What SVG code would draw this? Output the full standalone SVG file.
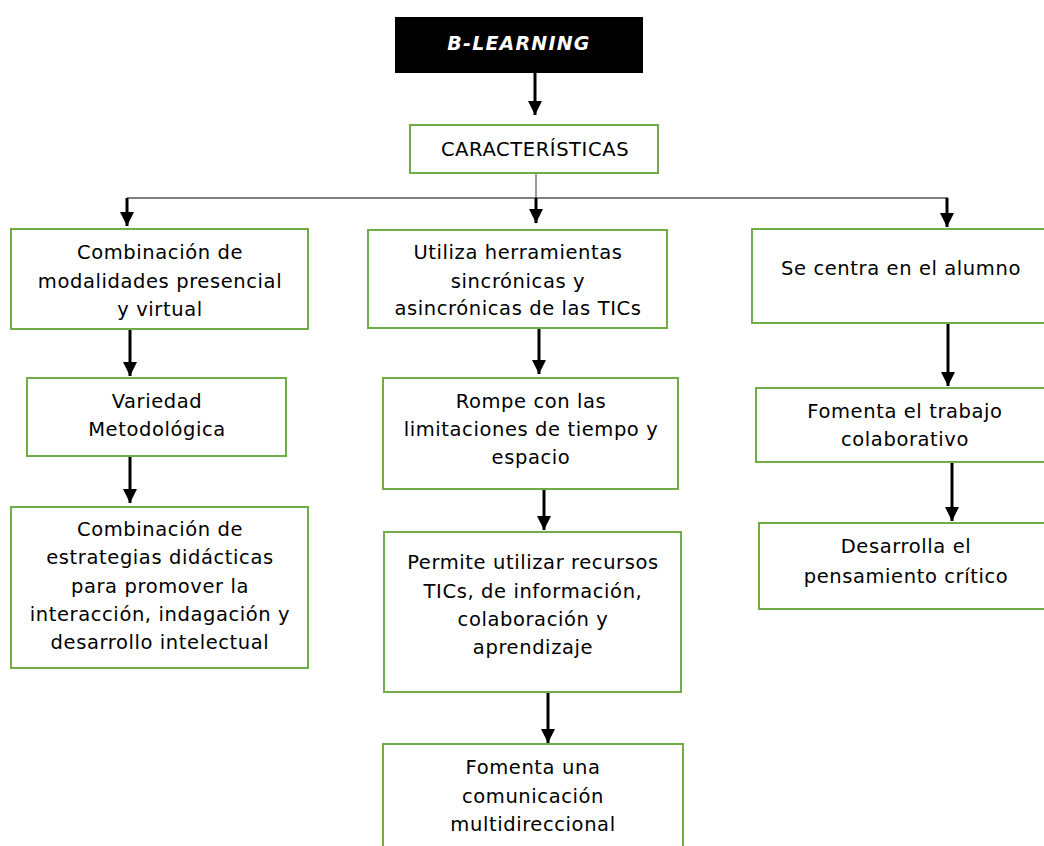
<svg xmlns="http://www.w3.org/2000/svg" width="1044" height="846" viewBox="0 0 1044 846">
<style>
.box{fill:#fff;stroke:#70ad47;stroke-width:2}
.t{font-family:"DejaVu Sans",Verdana,sans-serif;font-size:19.5px;letter-spacing:0.6px;fill:#000;text-anchor:middle}
.ar{stroke:#000;stroke-width:3;fill:none;marker-end:url(#ah)}
.thin{stroke:#000;stroke-width:1.2;fill:none}
</style>
<defs>
<marker id="ah" markerUnits="userSpaceOnUse" markerWidth="16" markerHeight="14" refX="14" refY="7" orient="auto">
<path d="M0,0 L14,7 L0,14 Z" fill="#000"/>
</marker>
</defs>
<rect width="1044" height="846" fill="#fff"/>

<g id="connectors">
<line class="ar" x1="535" y1="73" x2="535" y2="115"/>
<line x1="536" y1="173" x2="536" y2="198" stroke="#555" stroke-width="1.2"/>
<line class="thin" x1="127" y1="198" x2="948" y2="198"/>
<line class="ar" x1="127" y1="198" x2="127" y2="226"/>
<line class="ar" x1="536" y1="198" x2="536" y2="223"/>
<line class="ar" x1="947" y1="198" x2="947" y2="227"/>
<line class="ar" x1="130" y1="329" x2="130" y2="376"/>
<line class="ar" x1="130" y1="456" x2="130" y2="503"/>
<line class="ar" x1="539" y1="328" x2="539" y2="374"/>
<line class="ar" x1="544" y1="489" x2="544" y2="530"/>
<line class="ar" x1="548" y1="692" x2="548" y2="743"/>
<line class="ar" x1="948" y1="323" x2="948" y2="386"/>
<line class="ar" x1="952" y1="462" x2="952" y2="521"/>
</g>

<g id="n-blearning">
<rect x="395" y="17" width="248" height="56" fill="#000"/>
<text x="519" y="50" font-family="DejaVu Sans,Verdana,sans-serif" font-size="19" font-weight="bold" font-style="italic" letter-spacing="1.2" fill="#fff" text-anchor="middle">B-LEARNING</text>
</g>

<g id="n-caracteristicas">
<rect class="box" x="410" y="125" width="248" height="48"/>
<text class="t" x="535" y="156">CARACTERÍSTICAS</text>
</g>

<g id="n-combinacion">
<rect class="box" x="11" y="229" width="297" height="100"/>
<text class="t" x="160" y="259">Combinación de</text>
<text class="t" x="160" y="288">modalidades presencial</text>
<text class="t" x="160" y="316">y virtual</text>
</g>

<g id="n-variedad">
<rect class="box" x="27" y="378" width="259" height="78"/>
<text class="t" x="157" y="408">Variedad</text>
<text class="t" x="157" y="436">Metodológica</text>
</g>

<g id="n-estrategias">
<rect class="box" x="11" y="507" width="297" height="161"/>
<text class="t" x="160" y="536">Combinación de</text>
<text class="t" x="160" y="564">estrategias didácticas</text>
<text class="t" x="160" y="593">para promover la</text>
<text class="t" x="160" y="621">interacción, indagación y</text>
<text class="t" x="160" y="649">desarrollo intelectual</text>
</g>

<g id="n-utiliza">
<rect class="box" x="368" y="230" width="299" height="98"/>
<text class="t" x="518" y="259">Utiliza herramientas</text>
<text class="t" x="518" y="288">sincrónicas y</text>
<text class="t" x="518" y="315">asincrónicas de las TICs</text>
</g>

<g id="n-rompe">
<rect class="box" x="383" y="378" width="295" height="111"/>
<text class="t" x="531" y="408">Rompe con las</text>
<text class="t" x="531" y="436">limitaciones de tiempo y</text>
<text class="t" x="531" y="464">espacio</text>
</g>

<g id="n-permite">
<rect class="box" x="384" y="532" width="297" height="160"/>
<text class="t" x="533" y="569">Permite utilizar recursos</text>
<text class="t" x="533" y="598">TICs, de información,</text>
<text class="t" x="533" y="626">colaboración y</text>
<text class="t" x="533" y="654">aprendizaje</text>
</g>

<g id="n-fomenta-com">
<rect class="box" x="383" y="744" width="300" height="110"/>
<text class="t" x="533" y="774">Fomenta una</text>
<text class="t" x="533" y="803">comunicación</text>
<text class="t" x="533" y="831">multidireccional</text>
</g>

<g id="n-centra">
<rect class="box" x="752" y="229" width="298" height="94"/>
<text class="t" x="901" y="275">Se centra en el alumno</text>
</g>

<g id="n-colaborativo">
<rect class="box" x="756" y="388" width="298" height="74"/>
<text class="t" x="905" y="418">Fomenta el trabajo</text>
<text class="t" x="905" y="446">colaborativo</text>
</g>

<g id="n-critico">
<rect class="box" x="759" y="523" width="298" height="86"/>
<text class="t" x="906" y="553">Desarrolla el</text>
<text class="t" x="906" y="583">pensamiento crítico</text>
</g>
</svg>
